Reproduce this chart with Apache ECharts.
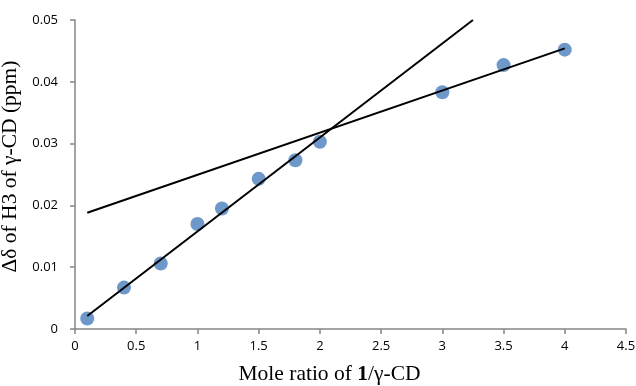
<!DOCTYPE html>
<html>
<head>
<meta charset="utf-8">
<script src="https://cdn.jsdelivr.net/npm/echarts@6/dist/echarts.min.js"></script>
<style>html,body{margin:0;padding:0;background:#fff}#c{width:636px;height:386px}</style>
</head>
<body>
<div id="c"></div>
<script>
var xValues = [0.1, 0.4, 0.7, 1.0, 1.2, 1.5, 1.8, 2.0, 3.0, 3.5, 4.0];
var yValues = [0.0017, 0.0067, 0.0106, 0.0170, 0.0195, 0.0243, 0.0273, 0.0303, 0.0383, 0.0427, 0.0452];
var trendLow = [[0.1, 0.0021], [3.25, 0.0500]];
var trendHigh = [[0.1, 0.0188], [4.0, 0.0454]];
var xTicks = ['0', '0.5', '1', '1.5', '2', '2.5', '3', '3.5', '4', '4.5'];
var yTicks = ['0', '0.01', '0.02', '0.03', '0.04', '0.05'];

var points = xValues.map(function (x, i) { return [x, yValues[i]]; });
var axisColor = '#868686';
var chart = echarts.init(document.getElementById('c'));
chart.setOption({
  animation: false,
  grid: { left: 75, right: 10, top: 20, bottom: 57, containLabel: false, outerBoundsMode: 'none' },
  xAxis: {
    type: 'value', min: 0, max: 4.5, interval: 0.5,
    splitLine: { show: false },
    axisLine: { show: true, lineStyle: { color: axisColor, width: 1.5 } },
    axisTick: { show: true, inside: false, length: 5, lineStyle: { color: axisColor, width: 1.5 } },
    axisLabel: { color: '#000', fontFamily: 'Open Sans', fontSize: 13, margin: 11,
      formatter: function (v) { return xTicks[Math.round(v / 0.5)]; } },
    name: '{a|Mole ratio of }{b|1}{a|/γ-CD}',
    nameLocation: 'middle', nameGap: 34,
    nameTextStyle: { padding: [0, 42, 0, 0],
      rich: {
        a: { fontFamily: 'Liberation Serif', fontSize: 21.5, color: '#000' },
        b: { fontFamily: 'Liberation Serif', fontSize: 21.5, fontWeight: 'bold', color: '#000' }
      } }
  },
  yAxis: {
    type: 'value', min: 0, max: 0.05, interval: 0.01,
    splitLine: { show: false },
    axisLine: { show: true, lineStyle: { color: axisColor, width: 1.5 } },
    axisTick: { show: true, inside: false, length: 5, lineStyle: { color: axisColor, width: 1.5 } },
    axisLabel: { color: '#000', fontFamily: 'Open Sans', fontSize: 13, margin: 17,
      formatter: function (v) { return yTicks[Math.round(v / 0.01)]; } },
    name: 'Δδ of H3 of γ-CD (ppm)',
    nameLocation: 'middle', nameGap: 51,
    nameTextStyle: { fontFamily: 'Liberation Serif', fontSize: 21.5, color: '#000', padding: [0, 0, 0, 16] }
  },
  series: [
    { type: 'scatter', data: points, symbol: 'circle', symbolSize: 14,
      itemStyle: { color: '#4a7ebb' }, z: 2 },
    { type: 'line', data: trendLow, showSymbol: false, symbol: 'none', clip: true,
      lineStyle: { color: '#000', width: 2 }, z: 3 },
    { type: 'line', data: trendHigh, showSymbol: false, symbol: 'none', clip: true,
      lineStyle: { color: '#000', width: 2 }, z: 3 }
  ]
});
</script>
</body>
</html>
